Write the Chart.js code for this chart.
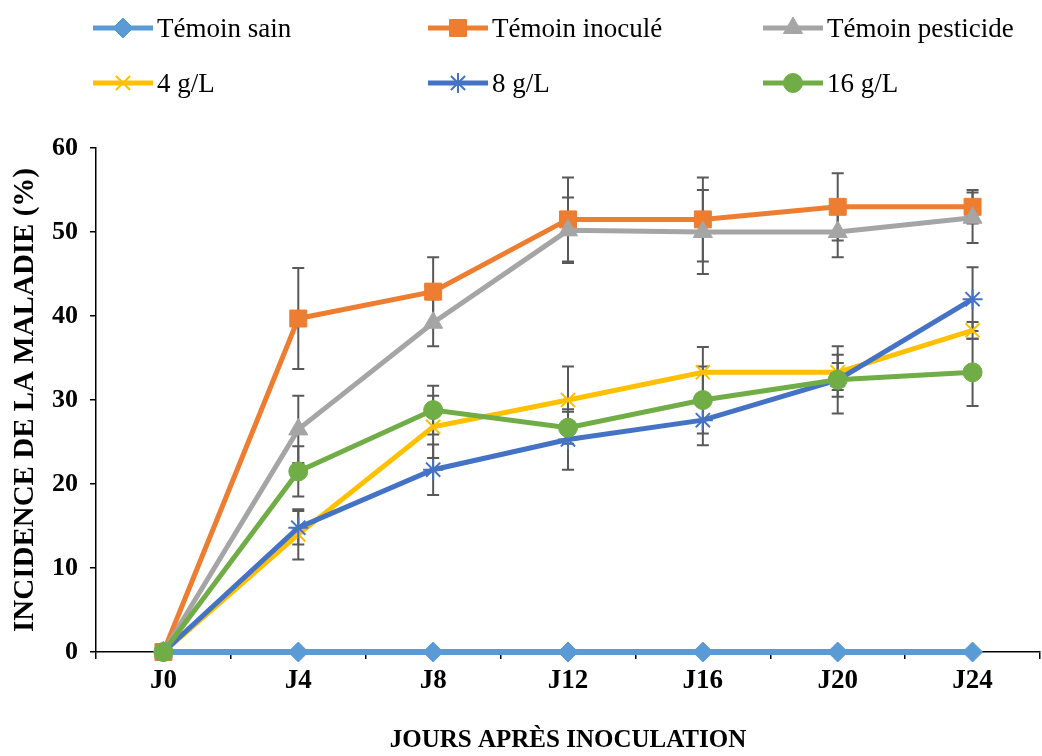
<!DOCTYPE html>
<html>
<head>
<meta charset="utf-8">
<script src="https://cdn.jsdelivr.net/npm/chart.js@4.4.1/dist/chart.umd.min.js"></script>
<style>
html, body { margin: 0; padding: 0; background: #fff; }
#wrap { position: relative; width: 1042px; height: 756px; }
#chart { position: absolute; left: 0; top: 0; }
#legend { position: absolute; left: 0; top: 0; width: 1042px; height: 110px;
  font-family: 'Liberation Serif', 'Times New Roman', serif; font-size: 27px; color: #000; }
.item { position: absolute; display: flex; align-items: center; height: 34px; white-space: nowrap; }
.item canvas { display: block; margin-right: 4px; }
</style>
</head>
<body>
<div id="wrap">
  <canvas id="chart" width="1042" height="756"></canvas>
  <div id="legend"></div>
</div>
<script>
// jours après inoculation
var categories = ['J0', 'J4', 'J8', 'J12', 'J16', 'J20', 'J24'];

// incidence de la maladie (%) et écarts
var temoinSain = [0, 0, 0, 0, 0, 0, 0];
var temoinInocule = [0, 39.7, 42.9, 51.5, 51.5, 53.0, 53.0];
var errInocule = [0, 6.0, 4.1, 5.0, 5.0, 4.0, 2.0];
var temoinPesticide = [0, 26.5, 39.2, 50.2, 50.0, 50.0, 51.7];
var errPesticide = [0, 4.0, 2.8, 3.9, 5.0, 3.0, 3.0];
var dose4 = [0, 14.0, 26.8, 30.0, 33.3, 33.3, 38.3];
var err4 = [0, 3.0, 3.7, 4.0, 3.0, 2.1, 1.0];
var dose8 = [0, 14.8, 21.7, 25.3, 27.6, 32.4, 42.0];
var err8 = [0, 2.0, 3.0, 3.6, 3.0, 2.0, 3.8];
var dose16 = [0, 21.5, 28.8, 26.7, 30.0, 32.4, 33.3];
var err16 = [0, 3.0, 2.9, 1.9, 4.0, 4.0, 4.0];

var yTicks = [0, 10, 20, 30, 40, 50, 60];

var serif = "'Liberation Serif', 'Times New Roman', serif";

function makeSeries(label, values, errors, color, style, radius, width, order) {
    var stroked = (style === 'crossRot' || style === 'star');
    return {
        label: label,
        data: values,
        errors: errors,
        borderColor: color,
        backgroundColor: color,
        borderWidth: width,
        tension: 0,
        pointStyle: style,
        pointRadius: radius,
        pointHoverRadius: radius,
        pointBackgroundColor: color,
        pointBorderColor: color,
        pointBorderWidth: stroked ? 2 : 1,
        clip: false,
        order: order
    };
}

var datasets = [
    makeSeries('Témoin sain', temoinSain, null, '#5B9BD5', 'rectRot', 10, 6, 6),
    makeSeries('Témoin inoculé', temoinInocule, errInocule, '#ED7D31', 'rect', 12, 5, 5),
    makeSeries('Témoin pesticide', temoinPesticide, errPesticide, '#A5A5A5', 'triangle', 11, 5, 4),
    makeSeries('4 g/L', dose4, err4, '#FFC000', 'crossRot', 10, 5, 3),
    makeSeries('8 g/L', dose8, err8, '#4472C4', 'star', 10, 5, 2),
    makeSeries('16 g/L', dose16, err16, '#70AD47', 'circle', 9.5, 5, 1)
];

// barres d'erreur sous les courbes
var errorBars = {
    id: 'errorBars',
    beforeDatasetsDraw: function(chart) {
        var ctx = chart.ctx;
        var y = chart.scales.y;
        ctx.save();
        ctx.strokeStyle = '#595959';
        ctx.lineWidth = 2;
        chart.data.datasets.forEach(function(ds, i) {
            if (!ds.errors) return;
            var meta = chart.getDatasetMeta(i);
            meta.data.forEach(function(pt, j) {
                var e = ds.errors[j];
                if (!e) return;
                var top = y.getPixelForValue(ds.data[j] + e);
                var bottom = y.getPixelForValue(ds.data[j] - e);
                ctx.beginPath();
                ctx.moveTo(pt.x, top);
                ctx.lineTo(pt.x, bottom);
                ctx.moveTo(pt.x - 6, top);
                ctx.lineTo(pt.x + 6, top);
                ctx.moveTo(pt.x - 6, bottom);
                ctx.lineTo(pt.x + 6, bottom);
                ctx.stroke();
            });
        });
        ctx.restore();
    }
};

var chart = new Chart(document.getElementById('chart'), {
    type: 'line',
    data: {
        labels: categories,
        datasets: datasets
    },
    options: {
        responsive: false,
        animation: false,
        devicePixelRatio: 1,
        layout: { autoPadding: false, padding: { top: 148, left: 0, right: 2, bottom: 0 } },
        plugins: {
            legend: { display: false },
            tooltip: { enabled: false }
        },
        scales: {
            x: {
                offset: true,
                grid: { display: true, offset: true, drawOnChartArea: false, drawTicks: true, tickLength: 7, color: '#000', lineWidth: 1.5 },
                border: { display: true, color: '#000', width: 1.5 },
                ticks: { color: '#000', padding: 6, font: { family: serif, size: 27, weight: 'bold' } },
                title: { display: true, text: 'JOURS APRÈS INOCULATION', color: '#000', padding: { top: 0, bottom: 0 },
                    font: { family: serif, size: 25, weight: 'bold' } },
                afterFit: function(s) { s.height = 104; s.paddingLeft = 0; s.paddingRight = 0; }
            },
            y: {
                min: 0,
                max: 60,
                afterBuildTicks: function(s) { s.ticks = yTicks.map(function(v) { return { value: v }; }); },
                grid: { display: true, drawOnChartArea: false, drawTicks: true, tickLength: 6, color: '#000', lineWidth: 1.5 },
                border: { display: true, color: '#000', width: 1.5 },
                ticks: { color: '#000', padding: 12, font: { family: serif, size: 26, weight: 'bold' } },
                title: { display: true, text: 'INCIDENCE DE LA MALADIE (%)', color: '#000', padding: { top: 8, bottom: 0 },
                    font: { family: serif, size: 29, weight: 'bold' } },
                afterFit: function(s) { s.width = 96; }
            }
        }
    },
    plugins: [errorBars]
});

// légende en grille 3 x 2
var legendEl = document.getElementById('legend');
var colLeft = [93, 428, 763];
var rowMid = [28, 83];
datasets.forEach(function(ds, i) {
    var item = document.createElement('div');
    item.className = 'item';
    item.style.left = colLeft[i % 3] + 'px';
    item.style.top = (rowMid[Math.floor(i / 3)] - 17) + 'px';
    var c = document.createElement('canvas');
    c.width = 60;
    c.height = 30;
    var ctx = c.getContext('2d');
    ctx.strokeStyle = ds.borderColor;
    ctx.lineWidth = 5;
    ctx.beginPath();
    ctx.moveTo(0, 15);
    ctx.lineTo(60, 15);
    ctx.stroke();
    ctx.fillStyle = ds.pointBackgroundColor;
    ctx.strokeStyle = ds.pointBorderColor;
    ctx.lineWidth = ds.pointBorderWidth;
    Chart.helpers.drawPoint(ctx, { pointStyle: ds.pointStyle, radius: ds.pointRadius, rotation: 0, borderWidth: ds.pointBorderWidth }, 30, 15);
    var span = document.createElement('span');
    span.textContent = ds.label;
    item.appendChild(c);
    item.appendChild(span);
    legendEl.appendChild(item);
});
</script>
</body>
</html>
